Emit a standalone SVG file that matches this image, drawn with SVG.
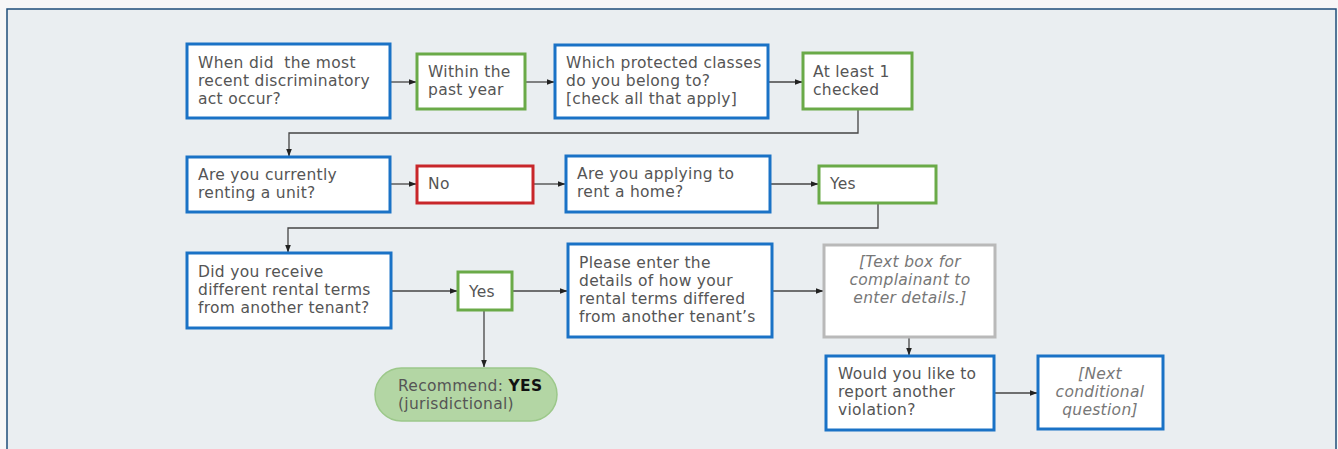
<svg xmlns="http://www.w3.org/2000/svg" width="1338" height="449" viewBox="0 0 1338 449">
<defs>
<marker id="ah" markerWidth="8" markerHeight="6" refX="7.5" refY="3" orient="auto" markerUnits="userSpaceOnUse">
<path d="M0,0 L8,3 L0,6 Z" fill="#222"/>
</marker>
<style>
.q{fill:#fff;stroke:#1a72c6;stroke-width:3}
.g{fill:#fff;stroke:#6aaa48;stroke-width:3}
.r{fill:#fff;stroke:#c8262a;stroke-width:3}
.gr{fill:#fff;stroke:#b9b9b9;stroke-width:3}
.t{font-family:"DejaVu Sans",sans-serif;font-size:15.5px;fill:#555;letter-spacing:0.3px}
.i{font-family:"DejaVu Sans",sans-serif;font-size:15.5px;fill:#777;font-style:italic;letter-spacing:0.3px;text-anchor:middle}
.c{fill:none;stroke:#444;stroke-width:1.3}
</style>
</defs>
<rect x="0" y="0" width="1338" height="449" fill="#f7f7f7"/>
<rect x="7" y="9" width="1329" height="460" fill="#eaeef1" stroke="#1f4e79" stroke-width="1.5"/>

<g id="connectors">
<path class="c" d="M390,82 H416" marker-end="url(#ah)"/>
<path class="c" d="M525,82 H554" marker-end="url(#ah)"/>
<path class="c" d="M768,82 H802" marker-end="url(#ah)"/>
<path class="c" d="M858,109 V133 H289 V156" marker-end="url(#ah)"/>
<path class="c" d="M390,184 H416" marker-end="url(#ah)"/>
<path class="c" d="M533,184 H565" marker-end="url(#ah)"/>
<path class="c" d="M770,184 H818" marker-end="url(#ah)"/>
<path class="c" d="M878,203 V228 H288 V252" marker-end="url(#ah)"/>
<path class="c" d="M391,291 H457" marker-end="url(#ah)"/>
<path class="c" d="M512,291 H567" marker-end="url(#ah)"/>
<path class="c" d="M484,310 V367" marker-end="url(#ah)"/>
<path class="c" d="M772,291 H823" marker-end="url(#ah)"/>
<path class="c" d="M909,337 V355" marker-end="url(#ah)"/>
<path class="c" d="M994,393 H1037" marker-end="url(#ah)"/>
</g>

<g id="n1"><rect class="q" x="187" y="44" width="203" height="74"/>
<text class="t" x="198" y="68" xml:space="preserve">When did  the most</text>
<text class="t" x="198" y="86">recent discriminatory</text>
<text class="t" x="198" y="104">act occur?</text></g>

<g id="n2"><rect class="g" x="417" y="54" width="108" height="55"/>
<text class="t" x="428" y="77">Within the</text>
<text class="t" x="428" y="95">past year</text></g>

<g id="n3"><rect class="q" x="555" y="45" width="213" height="73"/>
<text class="t" x="566" y="68">Which protected classes</text>
<text class="t" x="566" y="86">do you belong to?</text>
<text class="t" x="566" y="104">[check all that apply]</text></g>

<g id="n4"><rect class="g" x="803" y="53" width="109" height="56"/>
<text class="t" x="813" y="77">At least 1</text>
<text class="t" x="813" y="95">checked</text></g>

<g id="n5"><rect class="q" x="187" y="157" width="203" height="55"/>
<text class="t" x="198" y="180">Are you currently</text>
<text class="t" x="198" y="198">renting a unit?</text></g>

<g id="n6"><rect class="r" x="417" y="166" width="116" height="37"/>
<text class="t" x="428" y="189">No</text></g>

<g id="n7"><rect class="q" x="566" y="156" width="204" height="56"/>
<text class="t" x="577" y="179">Are you applying to</text>
<text class="t" x="577" y="197">rent a home?</text></g>

<g id="n8"><rect class="g" x="819" y="166" width="117" height="37"/>
<text class="t" x="830" y="189">Yes</text></g>

<g id="n9"><rect class="q" x="187" y="253" width="204" height="75"/>
<text class="t" x="198" y="277">Did you receive</text>
<text class="t" x="198" y="295">different rental terms</text>
<text class="t" x="198" y="313">from another tenant?</text></g>

<g id="n10"><rect class="g" x="458" y="272" width="54" height="38"/>
<text class="t" x="469" y="297">Yes</text></g>

<g id="n11"><rect x="375" y="368" width="182" height="53" rx="26.5" fill="#b3d6a4" stroke="#9cc88a" stroke-width="1.5"/>
<text class="t" x="398" y="391">Recommend: <tspan font-weight="bold" fill="#111">YES</tspan></text>
<text class="t" x="398" y="409">(jurisdictional)</text></g>

<g id="n12"><rect class="q" x="568" y="244" width="204" height="93"/>
<text class="t" x="579" y="268">Please enter the</text>
<text class="t" x="579" y="286">details of how your</text>
<text class="t" x="579" y="304">rental terms differed</text>
<text class="t" x="579" y="322">from another tenant’s</text></g>

<g id="n13"><rect class="gr" x="824" y="245" width="171" height="92"/>
<text class="i" x="910" y="267">[Text box for</text>
<text class="i" x="910" y="285">complainant to</text>
<text class="i" x="910" y="303">enter details.]</text></g>

<g id="n14"><rect class="q" x="826" y="356" width="168" height="74"/>
<text class="t" x="838" y="379">Would you like to</text>
<text class="t" x="838" y="397">report another</text>
<text class="t" x="838" y="415">violation?</text></g>

<g id="n15"><rect class="q" x="1038" y="356" width="125" height="73"/>
<text class="i" x="1100" y="379">[Next</text>
<text class="i" x="1100" y="397">conditional</text>
<text class="i" x="1100" y="415">question]</text></g>
</svg>
